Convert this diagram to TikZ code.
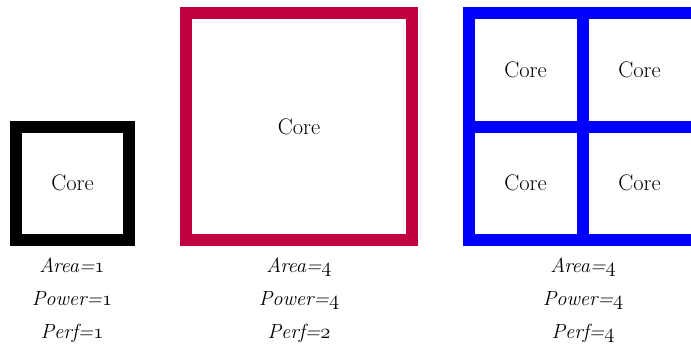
\documentclass[tikz,border=0pt]{standalone}
\definecolor{crim}{RGB}{192,0,63}
\newcommand{\osn}[1]{{\usefont{OML}{cmm}{m}{it}#1}}
\tikzset{
  corebox/.style={draw=#1, line width=12pt, rectangle, inner sep=0pt, outer sep=0pt,
    font=\fontsize{22.5}{27}\selectfont},
  lbl/.style={anchor=base, font=\fontsize{20.5}{24}\selectfont\itshape, inner sep=0pt}
}
\begin{document}
\begin{tikzpicture}[x=1pt,y=-1pt]
\useasboundingbox (0,0) rectangle (691,353);
% single small core
\node[corebox=black, minimum width=113pt, minimum height=113pt] (c1) at (72.5,183) {Core};
% big core
\node[corebox=crim, minimum width=226pt, minimum height=227pt] (c2) at (299,126.5) {Core};
% four cores
\node[corebox=blue, minimum width=114pt, minimum height=113.5pt] (q1) at (525.5,69.75) {Core};
\node[corebox=blue, minimum width=114pt, minimum height=113.5pt] (q2) at (639.5,69.75) {Core};
\node[corebox=blue, minimum width=114pt, minimum height=113.5pt] (q3) at (525.5,183.25) {Core};
\node[corebox=blue, minimum width=114pt, minimum height=113.5pt] (q4) at (639.5,183.25) {Core};
% labels
\node[lbl] (a1) at (72,272) {Area=\osn{1}};
\node[lbl] (p1) at (72,305) {Power=\osn{1}};
\node[lbl] (f1) at (72,338) {Perf=\osn{1}};
\node[lbl] (a2) at (299,272) {Area=\osn{4}};
\node[lbl] (p2) at (299,305) {Power=\osn{4}};
\node[lbl] (f2) at (299,338) {Perf=\osn{2}};
\node[lbl] (a3) at (583,272) {Area=\osn{4}};
\node[lbl] (p3) at (583,305) {Power=\osn{4}};
\node[lbl] (f3) at (583,338) {Perf=\osn{4}};
\end{tikzpicture}
\end{document}
